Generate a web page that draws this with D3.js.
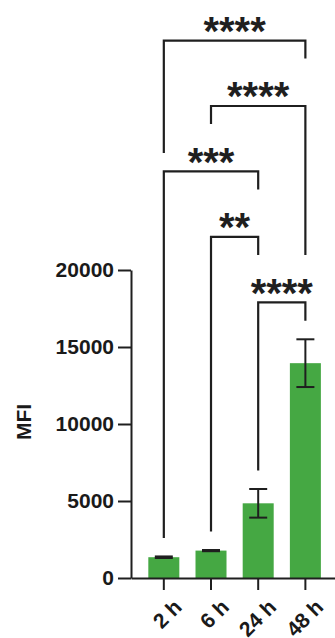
<!DOCTYPE html>
<html>
<head>
<meta charset="utf-8">
<script src="https://cdn.jsdelivr.net/npm/d3@7"></script>
<style>
  html, body { margin: 0; padding: 0; background: #ffffff; }
  svg { display: block; }
  text { font-family: "Liberation Sans", Arial, sans-serif; }
</style>
</head>
<body>
<svg id="chart" width="335" height="638"></svg>
<script>
// ---- data ----
const categories = ["2 h", "6 h", "24 h", "48 h"];
const means = [1350, 1780, 4850, 13950];
const errors = [50, 40, 930, 1550];
const yTicks = [0, 5000, 10000, 15000, 20000];
const yLabel = "MFI";
// significance comparisons: from/to category index, label, bracket level (0 = lowest)
const compFrom = [0, 1, 0, 1, 2];
const compTo = [3, 3, 2, 2, 3];
const compLabel = ["****", "****", "***", "**", "****"];
const compLevel = [4, 3, 2, 1, 0];
// leg ends: "bar" = just above error bar, "short" = short tick, number = MFI value
const compLegFrom = [27600, "short", "bar", "bar", "bar"];
const compLegTo = ["short", 20970, "short", 20970, "bar"];

// ---- layout ----
const svg = d3.select("#chart");
const x0 = 131, yBase = 578, yTop = 270;
const x = d3.scaleBand().domain(categories).range([x0, x0 + 207.2])
  .paddingInner(0.343).paddingOuter(0.367);
const y = d3.scaleLinear().domain([0, 20000]).range([yBase, yTop]);
const green = "#45a843";
const ink = "#1f1f1f";

// bars
svg.append("g").selectAll("rect").data(categories).join("rect")
  .attr("x", d => x(d)).attr("width", x.bandwidth())
  .attr("y", (d, i) => y(means[i])).attr("height", (d, i) => yBase - y(means[i]))
  .attr("fill", green);

// error bars
const eg = svg.append("g").attr("stroke", ink).attr("stroke-width", 2);
categories.forEach((c, i) => {
  const cx = x(c) + x.bandwidth() / 2;
  const hi = y(means[i] + errors[i]), lo = y(means[i] - errors[i]);
  eg.append("line").attr("x1", cx).attr("x2", cx).attr("y1", hi).attr("y2", lo);
  eg.append("line").attr("x1", cx - 9).attr("x2", cx + 9).attr("y1", hi).attr("y2", hi);
  eg.append("line").attr("x1", cx - 9).attr("x2", cx + 9).attr("y1", lo).attr("y2", lo);
});

// y axis
const yAxis = d3.axisLeft(y).tickValues(yTicks).tickSize(13).tickSizeOuter(0).tickPadding(4)
  .tickFormat(d3.format("d"));
const ga = svg.append("g").attr("transform", `translate(${x0},0)`).call(yAxis);
ga.select(".domain").attr("stroke", ink).attr("stroke-width", 2);
ga.selectAll(".tick line").attr("stroke", ink).attr("stroke-width", 2);
ga.selectAll(".tick text").attr("fill", "#1a1a1a").attr("font-size", 21).attr("font-weight", "bold")
  .attr("font-family", "Liberation Sans, Arial, sans-serif");

// x axis
const xAxis = d3.axisBottom(x).tickSize(12).tickSizeOuter(0).tickPadding(4);
const gx = svg.append("g").attr("transform", `translate(0,${yBase})`).call(xAxis);
gx.select(".domain").attr("stroke", ink).attr("stroke-width", 2);
gx.selectAll(".tick line").attr("stroke", ink).attr("stroke-width", 2);
gx.selectAll(".tick text")
  .attr("fill", "#1a1a1a").attr("font-size", 21).attr("font-weight", "bold")
  .attr("font-family", "Liberation Sans, Arial, sans-serif")
  .attr("text-anchor", "end").attr("dy", null)
  .attr("transform", "translate(8,19) rotate(-45)");

// y label
svg.append("text").attr("transform", `translate(31,${(yBase + yTop) / 2 - 2}) rotate(-90)`)
  .attr("text-anchor", "middle").attr("font-size", 21).attr("font-weight", "bold")
  .attr("fill", "#1a1a1a").text(yLabel);

// significance brackets
const levelY = lv => y(17900 + lv * 4250);
const cxOf = i => x(categories[i]) + x.bandwidth() / 2;
const bg = svg.append("g");
function legEnd(spec, i, yb) {
  if (spec === "short") return yb + 18;
  if (spec === "bar") return y(means[i] + errors[i]) - 18.5;
  return y(spec);
}
compFrom.forEach((f, k) => {
  const t = compTo[k];
  const yb = levelY(compLevel[k]);
  const xa = cxOf(f), xb = cxOf(t);
  const ya = legEnd(compLegFrom[k], f, yb), yc = legEnd(compLegTo[k], t, yb);
  bg.append("path")
    .attr("d", `M${xa},${ya}V${yb}H${xb}V${yc}`)
    .attr("fill", "none").attr("stroke", ink).attr("stroke-width", 2.2);
  bg.append("text").attr("x", (xa + xb) / 2).attr("y", yb + 4.5)
    .attr("text-anchor", "middle").attr("font-size", 40).attr("font-weight", "bold")
    .attr("fill", ink).text(compLabel[k]);
});
</script>
</body>
</html>
